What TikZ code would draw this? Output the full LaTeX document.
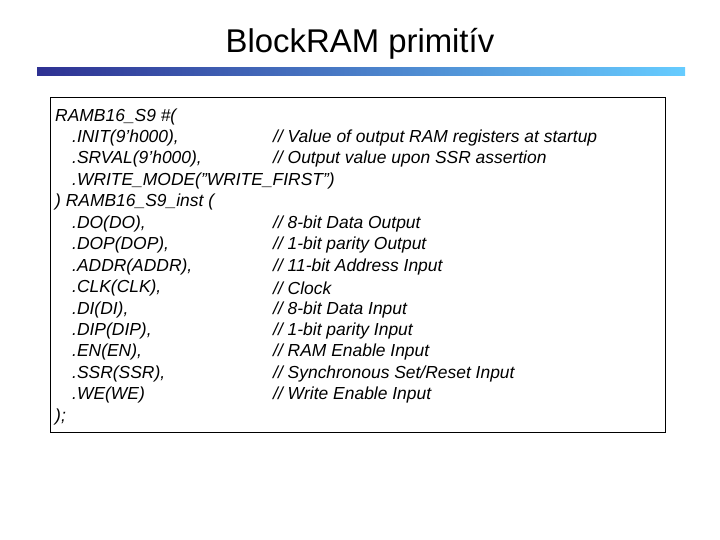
\documentclass[tikz,border=0pt]{standalone}
\usepackage{fontspec}
\setmainfont{Liberation Sans}
\definecolor{barL}{HTML}{2E3192}
\definecolor{barR}{HTML}{66CCFF}
\newcommand{\sq}{\symbol{39}}
\newcommand{\dq}{\symbol{34}}
\begin{document}
\begin{tikzpicture}[x=1bp,y=-1bp,
  code/.style={anchor=west,inner sep=0pt,font=\fontsize{17.5}{20}\selectfont\itshape}]
\useasboundingbox (0,0) rectangle (720,540);
\node[font=\fontsize{33}{38}\selectfont] (title) at (360,44) {BlockRAM primitív};
\shade[left color=barL, right color=barR] (37,68) rectangle (685,76);
\draw[line width=0.8pt, fill=white] (50,97) rectangle (665,432);
\def\lh{21.45}
\foreach \i/\t in {0/{RAMB16\_S9 \#(},4/{) RAMB16\_S9\_inst (},14/{);}}
  \node[code] at (55,{116.5+\i*\lh}) {\t};
\foreach \i/\t/\c in {
 1/{.INIT(9\sq h000),}/{// Value of output RAM registers at startup},
 2/{.SRVAL(9\sq h000),}/{// Output value upon SSR assertion},
 5/{.DO(DO),}/{// 8-bit Data Output},
 6/{.DOP(DOP),}/{// 1-bit parity Output},
 7/{.ADDR(ADDR),}/{// 11-bit Address Input},
 8/{.CLK(CLK),}/{// Clock},
 9/{.DI(DI),}/{// 8-bit Data Input},
 10/{.DIP(DIP),}/{// 1-bit parity Input},
 11/{.EN(EN),}/{// RAM Enable Input},
 12/{.SSR(SSR),}/{// Synchronous Set/Reset Input},
 13/{.WE(WE)}/{// Write Enable Input}}{
  \node[code] at (72,{116.5+\i*\lh}) {\t};
  \node[code] at (273,{116.5+\i*\lh}) {\c};
}
\node[code] at (72,{116.5+3*\lh}) {.WRITE\_MODE(\dq WRITE\_FIRST\dq)};
\end{tikzpicture}
\end{document}
